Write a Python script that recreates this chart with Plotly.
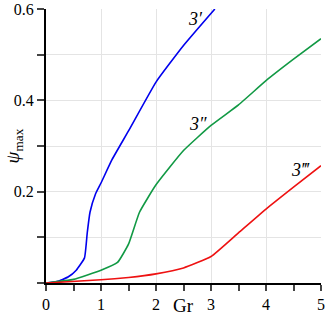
import plotly.graph_objects as go

gr_blue = [0, 0.2, 0.4, 0.55, 0.7, 0.75, 0.8, 0.9, 1.0, 1.2, 1.5, 2.0, 2.5, 3.07]
psi_blue = [0, 0.003, 0.013, 0.028, 0.055, 0.11, 0.155, 0.195, 0.219, 0.27, 0.333, 0.44, 0.52, 0.6]

gr_green = [0, 0.5, 1.0, 1.3, 1.5, 1.7, 2.0, 2.5, 3.0, 3.5, 4.0, 4.5, 5.0]
psi_green = [0, 0.008, 0.028, 0.045, 0.085, 0.155, 0.215, 0.29, 0.345, 0.39, 0.443, 0.49, 0.535]

gr_red = [0, 1.0, 1.5, 2.0, 2.5, 3.0, 3.5, 4.0, 4.5, 5.0]
psi_red = [0, 0.007, 0.012, 0.02, 0.033, 0.058, 0.11, 0.162, 0.21, 0.257]

labels = ["3′", "3″", "3‴"]
label_x = [2.71, 2.76, 4.62]
label_y = [0.578, 0.348, 0.248]

font = "Liberation Serif"

fig = go.Figure()
for xs, ys, c in [(gr_blue, psi_blue, "#0000ee"), (gr_green, psi_green, "#119944"), (gr_red, psi_red, "#ee1111")]:
    fig.add_trace(go.Scatter(x=xs, y=ys, mode="lines", line=dict(color=c, width=1.6, shape="spline", smoothing=0.4),
                             showlegend=False, hoverinfo="skip"))

for t, x, y in zip(labels, label_x, label_y):
    fig.add_annotation(x=x, y=y, text="<i>" + t + "</i>", showarrow=False, font=dict(family=font, size=18, color="black"),
                       xanchor="center", yanchor="middle")

fig.add_annotation(xref="paper", yref="paper", x=0.5, y=-0.035, text="Gr", showarrow=False,
                   font=dict(family=font, size=19, color="black"), xanchor="center", yanchor="top")
fig.add_annotation(xref="paper", yref="paper", x=-0.115, y=0.5, text="<i>ψ</i><sub>max</sub>", showarrow=False,
                   font=dict(family=font, size=19, color="black"), textangle=-90, xanchor="center", yanchor="middle")

tickfont = dict(family=font, size=16, color="black")
fig.update_layout(
    width=325, height=320,
    margin=dict(l=46, r=4, t=9, b=37, autoexpand=False),
    paper_bgcolor="white", plot_bgcolor="white",
    font=dict(family=font, size=16, color="black"),
    xaxis=dict(range=[0, 5], tickmode="array", tickvals=[0, 1, 2, 3, 4, 5], ticks="outside", ticklen=6, tickwidth=1.5,
               tickfont=tickfont, automargin=False,
               showline=True, linecolor="black", linewidth=2, showgrid=True, gridcolor="#e4e4e4", gridwidth=1,
               zeroline=False,
               minor=dict(tickvals=[0.5, 1.5, 2.5, 3.5, 4.5], ticks="outside", ticklen=6, tickwidth=1.5, showgrid=False)),
    yaxis=dict(range=[0, 0.6], tickmode="array", tickvals=[0.2, 0.4, 0.6], ticktext=["0.2", "0.4", "0.6"],
               ticks="outside", ticklen=7, tickwidth=1.5, tickfont=tickfont, automargin=False,
               showline=True, linecolor="black", linewidth=2, showgrid=True, gridcolor="#e4e4e4", gridwidth=1,
               zeroline=False,
               minor=dict(tickvals=[0, 0.1, 0.3, 0.5], ticks="outside", ticklen=7, tickwidth=1.5, showgrid=True, gridcolor="#e4e4e4")),
)

fig.write_html("out.html", config={"displayModeBar": False},
               post_script="document.body.style.margin='0';document.body.style.padding='0';")
